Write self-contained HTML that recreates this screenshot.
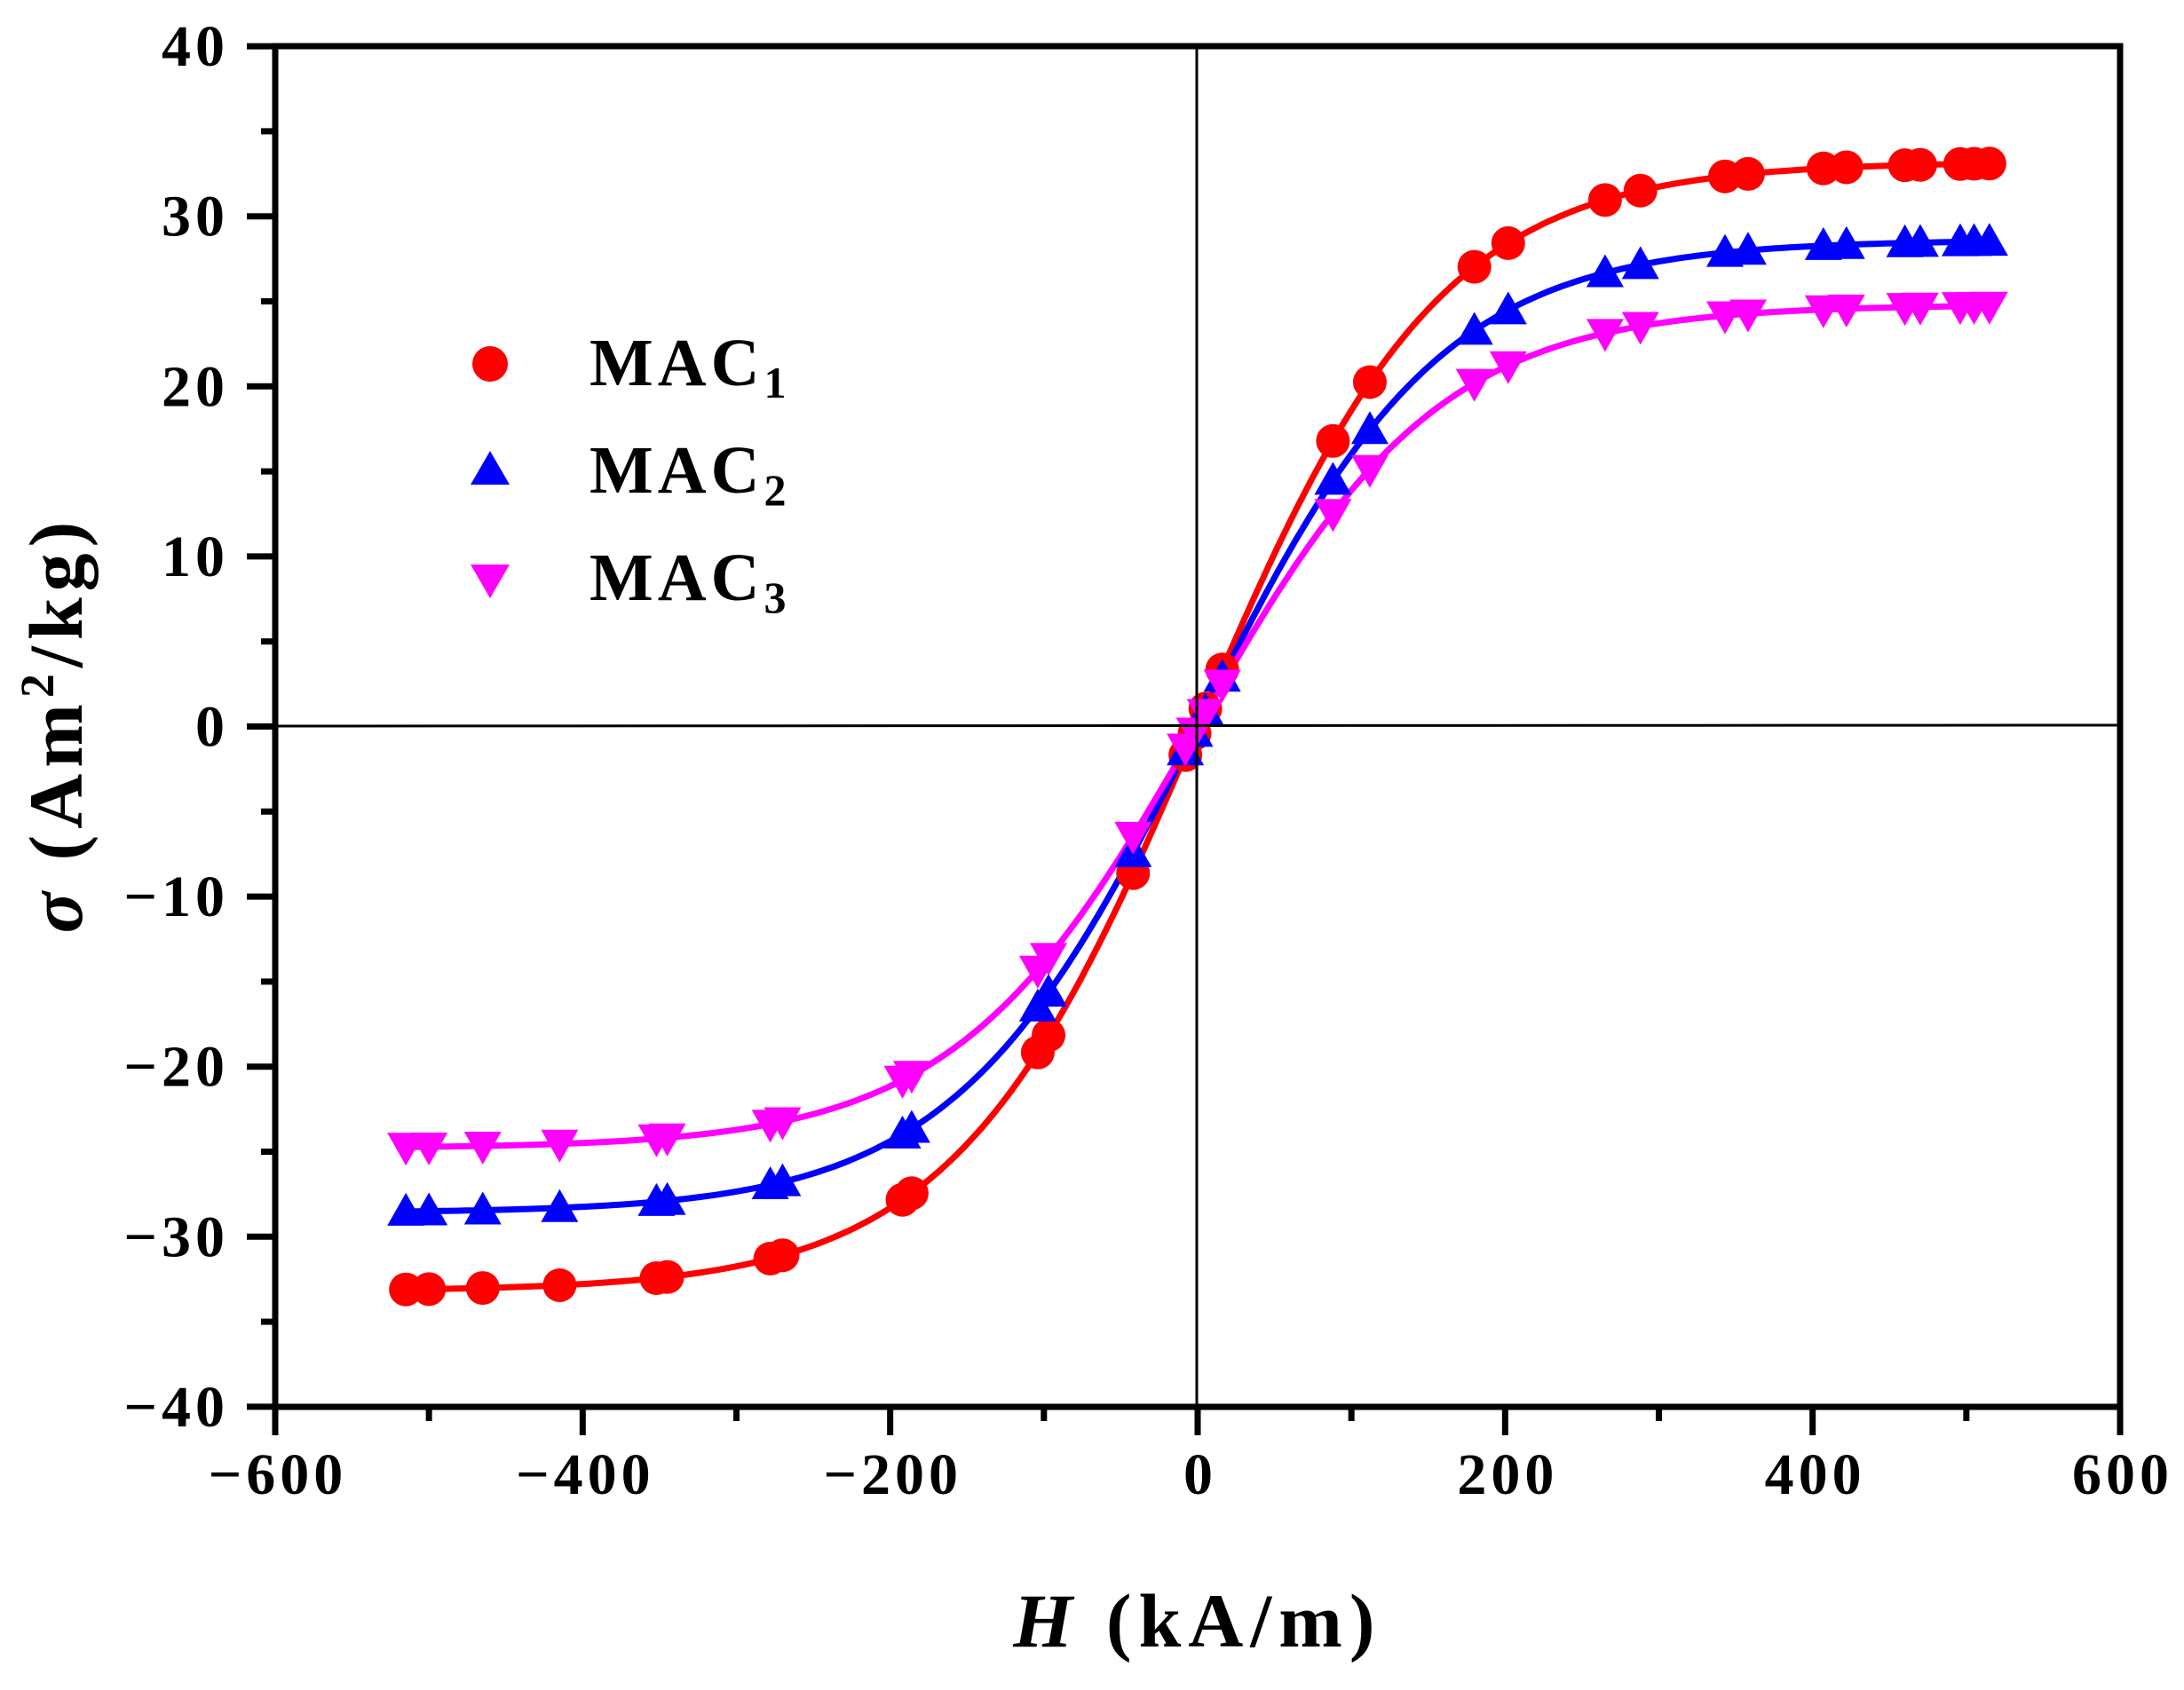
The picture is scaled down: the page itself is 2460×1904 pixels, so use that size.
<!DOCTYPE html>
<html><head><meta charset="utf-8"><style>
html,body{margin:0;padding:0;background:#fff;}
svg{display:block;font-family:"Liberation Serif",serif;font-weight:bold;}
</style></head><body>
<svg id="s" width="2460" height="1904" xmlns="http://www.w3.org/2000/svg">
<rect width="2460" height="1904" fill="#fff"/>
<g id="data"></g>
<line x1="310" y1="818" x2="2388" y2="817" stroke="#000" stroke-width="3"/>
<line x1="1348" y1="52" x2="1348" y2="1585" stroke="#000" stroke-width="3"/>
<rect x="310" y="52" width="2078" height="1533" fill="none" stroke="#000" stroke-width="7"/>
<g id="ticks" stroke="#000" stroke-width="7"></g>
<g id="labels" font-size="66" letter-spacing="5" fill="#000"></g>
<text x="1349" y="1855" font-size="86" letter-spacing="8" text-anchor="middle"><tspan font-style="italic">H</tspan> (kA/m)</text>
<text transform="translate(92,816) rotate(-90)" font-size="86" letter-spacing="7" text-anchor="middle"><tspan font-style="italic">σ</tspan> (Am<tspan font-size="54" dy="-32">2</tspan><tspan dy="32">/kg)</tspan></text>
<g font-size="76" letter-spacing="5">
<circle cx="552" cy="410" r="20" fill="#ff0000"/>
<text x="664" y="434">MAC<tspan font-size="50" dy="14">1</tspan></text>
<polygon points="552,508 574,546 530,546" fill="#0000ff"/>
<text x="664" y="555">MAC<tspan font-size="50" dy="14">2</tspan></text>
<polygon points="552,674 574,636 530,636" fill="#ff00ff"/>
<text x="664" y="676">MAC<tspan font-size="50" dy="14">3</tspan></text>
</g>
</svg>
<script>
var NS="http://www.w3.org/2000/svg";
function X(v){return 1349+v*1.7317;}
function Y(v){return 818.5-v*19.16;}
function el(p,t,a){var e=document.createElementNS(NS,t);for(var k in a)e.setAttribute(k,a[k]);p.appendChild(e);return e;}
var tk=document.getElementById('ticks'),lb=document.getElementById('labels'),dt=document.getElementById('data');
for(var v=-600;v<=600;v+=100){var x=X(v),maj=(v%200==0);el(tk,'line',{x1:x,y1:1585,x2:x,y2:maj?1617:1601});
 if(maj){var t=el(lb,'text',{x:x+3,y:1683,'text-anchor':'middle'});t.textContent=(v<0?'\u2212':'')+Math.abs(v);}}
for(var v=-40;v<=40;v+=5){var y=Y(v),maj=(v%10==0);el(tk,'line',{x1:310,y1:y,x2:maj?278:294,y2:y});
 if(maj){var t=el(lb,'text',{x:258,y:y+22,'text-anchor':'end'});t.textContent=(v<0?'\u2212':'')+Math.abs(v);}}
var S=[[33.2,'#ff0000','c'],[28.6,'#0000ff','u'],[24.8,'#ff00ff','d']];
function f(s,h){return s[0]*Math.tanh(h/158);}
var xs=[-515,-500,-465,-415,-352,-345,-278,-270,-192,-186,-104,-97,-42,-8,-2,5,16,88,112,180,202,265,288,343,358,407,422,460,470,496,505,515];
S.forEach(function(s){var d='';for(var h=-520;h<=520;h+=4){var v=f(s,h);d+=(h==-520?'M':'L')+X(h).toFixed(1)+','+Y(v).toFixed(1);}
 el(dt,'path',{d:d,fill:'none',stroke:s[1],'stroke-width':7});});
S.forEach(function(s){xs.forEach(function(h){var x=X(h),y=Y(f(s,h));
 if(s[2]=='c')el(dt,'circle',{cx:x,cy:y,r:19,fill:s[1]});
 else if(s[2]=='u')el(dt,'polygon',{points:x+','+(y-21)+' '+(x+21)+','+(y+16)+' '+(x-21)+','+(y+16),fill:s[1]});
 else el(dt,'polygon',{points:x+','+(y+21)+' '+(x+21)+','+(y-16)+' '+(x-21)+','+(y-16),fill:s[1]});});});
</script>
</body></html>
